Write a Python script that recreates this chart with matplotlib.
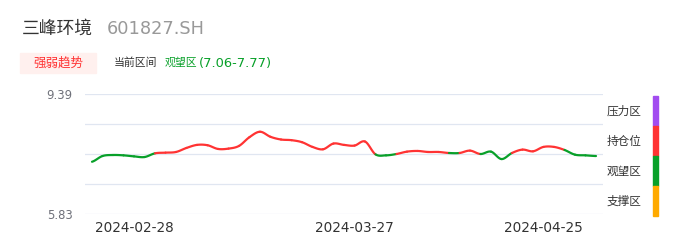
import numpy as np
import matplotlib
matplotlib.use('Agg')
import matplotlib.pyplot as plt
from matplotlib.patches import Rectangle

plt.rcParams['font.family'] = ['DejaVu Sans', 'Noto Sans CJK SC']

# 数据
precios = [7.38, 7.55, 7.58, 7.57, 7.54, 7.52, 7.63, 7.65, 7.67, 7.79,
           7.88, 7.87, 7.76, 7.77, 7.85, 8.11, 8.27, 8.12, 8.04, 8.02,
           7.96, 7.82, 7.75, 7.92, 7.88, 7.86, 7.98, 7.60, 7.57, 7.61,
           7.68, 7.70, 7.67, 7.67, 7.64, 7.64, 7.71, 7.61, 7.68, 7.46,
           7.64, 7.74, 7.69, 7.82, 7.82, 7.73, 7.59, 7.57, 7.55]
# 每段状态: 'g' 观望区, 'r' 持仓位
estado = list('gggggg' + 'r' * 21 + 'gg' + 'r' * 5 + 'g' + 'rr' + 'ggg' + 'r' * 5 + 'ggg')
fechas = ['2024-02-28', '2024-03-27', '2024-04-25']
idx_fechas = [4, 25, 43]
y_min, y_max = 5.83, 9.39
zonas = ['压力区', '持仓位', '观望区', '支撑区']
colores_zona = ['#a24cf0', '#ff3333', '#08a029', '#ffaa00']

color_seg = {'g': '#08a029', 'r': '#ff3333'}

fig = plt.figure(figsize=(6.86, 2.47), dpi=100)
ax = fig.add_axes([85 / 686, 1 - 214 / 247, 518 / 686, 120 / 247])

# curva suave (Catmull-Rom)
y = np.array(precios)
n = len(y)
ext = np.concatenate([[y[0]], y, [y[-1]]])
for i in range(n - 1):
    p0, p1, p2, p3 = ext[i], ext[i + 1], ext[i + 2], ext[i + 3]
    t = np.linspace(0, 1, 20)
    yy = 0.5 * ((2 * p1) + (-p0 + p2) * t + (2 * p0 - 5 * p1 + 4 * p2 - p3) * t ** 2
                + (-p0 + 3 * p1 - 3 * p2 + p3) * t ** 3)
    ax.plot(i + t, yy, color=color_seg[estado[i]], lw=1.6, solid_capstyle='round')

ax.set_xlim(-0.667, n - 1 + 0.667)
ax.set_ylim(y_min, y_max)
ticks_y = np.linspace(y_min, y_max, 5)
for v in ticks_y:
    ax.axhline(v, color='#e0e6f1', lw=0.9, zorder=0)
ax.set_yticks([y_min, y_max])
ax.set_yticklabels(['%.2f' % y_min, '%.2f' % y_max])
ax.set_xticks(idx_fechas)
ax.set_xticklabels(fechas)
ax.tick_params(axis='y', length=0, pad=9, labelsize=8.4, labelcolor='#6e7079')
ax.tick_params(axis='x', length=0, pad=5, labelsize=9.8, labelcolor='#333333')
for s in ax.spines.values():
    s.set_visible(False)

# cabecera
fig.text(22 / 686, 1 - 29 / 247, '三峰环境', fontsize=12.8, color='#333333', va='center')
fig.text(107 / 686, 1 - 29 / 247, '601827.SH', fontsize=12.8, color='#999999', va='center')
fig.patches.append(Rectangle((20 / 686, 1 - 73 / 247), 76 / 686, 20 / 247,
                             transform=fig.transFigure, color='#fff0ee', zorder=0))
fig.text(58 / 686, 1 - 63 / 247, '强弱趋势', fontsize=9, color='#ff3333', va='center', ha='center')
fig.text(114 / 686, 1 - 63 / 247, '当前区间', fontsize=7.8, color='#333333', va='center')
fig.text(165 / 686, 1 - 63 / 247, '观望区', fontsize=7.8, color='#08a029', va='center')
fig.text(199 / 686, 1 - 63 / 247, '(7.06-7.77)', fontsize=9.4, color='#08a029', va='center')

# leyenda de zonas
for k, (z, c) in enumerate(zip(zonas, colores_zona)):
    top = 96 + 30 * k
    fig.patches.append(Rectangle((653 / 686, 1 - (top + 30) / 247), 4.5 / 686, 30 / 247,
                                 transform=fig.transFigure, color=c))
    fig.text(607 / 686, 1 - (top + 15) / 247, z, fontsize=8.4, color='#333333', va='center')

fig.savefig('out.png', dpi=100)
